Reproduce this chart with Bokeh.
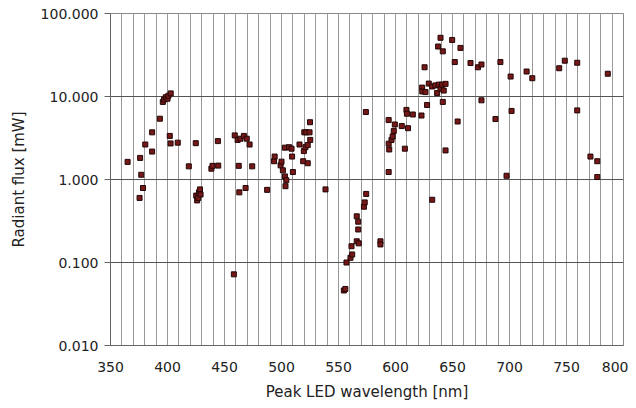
from bokeh.plotting import figure
from bokeh.models import FixedTicker, PrintfTickFormatter, ColumnDataSource
from bokeh.embed import file_html
from bokeh.resources import INLINE

wavelength = [365, 375.5, 376, 377, 378.5, 380.5, 386.5, 386.5, 393.3, 395.9, 397, 398.5, 400, 400.8, 402.8,
              402, 402.7, 409, 418.7, 424.8, 425.2, 426, 427, 427.6, 428.5, 429, 438.5, 439.5, 444.5, 444.2,
              458.2, 459, 461.5, 462.5, 463, 464, 467, 468.5, 469.5, 472, 474.3, 487.4, 493.5, 494, 499.2,
              500, 501.2, 503, 504.2, 503.5, 503, 506.6, 508.8, 509.3, 510, 515.8, 519, 519.6, 520, 521,
              521.8, 523, 523, 524.6, 525, 525.2, 538.6, 554.7, 556, 557, 560.5, 562, 561.4, 566, 567.8,
              566, 567.3, 567.3, 572.3, 573, 574.3, 574, 586.8, 586.8, 594, 594, 594, 594.5, 596.5, 597.5,
              598.5, 599.4, 605.5, 608.2, 609.6, 610, 611, 615.2, 622.8, 623.4, 623.5, 625.5, 626.3, 627.7,
              629.2, 632.2, 632.2, 635, 636.5, 637.4, 637.9, 639.5, 639.5, 640.9, 641.5, 641.5, 642.3, 643.9,
              643.9, 649.7, 652, 654.5, 657, 665.8, 672.3, 675.4, 675.4, 687.7, 692, 697.4, 701, 701.8, 715,
              720, 743.6, 748.5, 759.4, 759.4, 771, 777, 777, 786.2]
flux = [1.63, 0.60, 1.82, 1.14, 0.79, 2.64, 3.7, 2.17, 5.4, 8.6, 9.2, 9.8, 9.4, 10.2, 10.9,
        3.35, 2.72, 2.78, 1.44, 2.74, 0.64, 0.56, 0.60, 0.70, 0.76, 0.66, 1.35, 1.46, 1.47, 2.9,
        0.072, 3.4, 3.0, 1.46, 0.70, 3.1, 3.35, 0.79, 3.1, 2.64, 1.44, 0.75, 1.66, 1.89, 1.48,
        1.64, 1.29, 1.09, 0.98, 0.83, 2.42, 2.45, 2.35, 1.89, 1.23, 2.64, 1.66, 2.2, 3.7, 2.45,
        3.7, 1.57, 2.6, 3.7, 4.9, 3.0, 0.76, 0.046, 0.048, 0.10, 0.114, 0.125, 0.157, 0.18, 0.17,
        0.36, 0.31, 0.25, 0.47, 0.53, 0.67, 6.5, 0.18, 0.165, 5.2, 1.23, 2.7, 2.3, 3.0, 3.3,
        3.85, 4.6, 4.4, 2.35, 6.9, 6.2, 4.15, 6.07, 5.9, 12.8, 11.5, 22.5, 11.3, 7.9,
        14.3, 13.2, 0.57, 13.6, 11.0, 40, 13.9, 51, 12.4, 13.9, 35, 8.6, 11.8, 14.2,
        2.24, 48, 26, 5.0, 38.5, 25.3, 22.5, 24.3, 9.0, 5.35, 26, 1.11, 17.4, 6.7, 20,
        16.6, 21.9, 27, 25.5, 6.8, 1.89, 1.66, 1.07, 18.8]

x_ticks = [350, 400, 450, 500, 550, 600, 650, 700, 750, 800]
x_grid = list(range(350, 801, 10))
y_ticks = [0.01, 0.1, 1, 10, 100]

source = ColumnDataSource(data=dict(wl=wavelength, flux=flux))

p = figure(width=628, height=403, y_axis_type="log",
           x_range=(350, 800), y_range=(0.01, 100),
           output_backend="svg", toolbar_location=None,
           min_border_left=110, min_border_right=5, min_border_top=13, min_border_bottom=58)

p.scatter("wl", "flux", source=source, marker="square", size=5,
          fill_color="#761818", line_color="#220606", line_width=1)

p.xaxis.ticker = FixedTicker(ticks=x_ticks)
p.yaxis.ticker = FixedTicker(ticks=y_ticks)
p.yaxis.formatter = PrintfTickFormatter(format="%.3f")
p.xgrid.ticker = FixedTicker(ticks=x_grid)
p.ygrid.ticker = FixedTicker(ticks=y_ticks)
p.xgrid.grid_line_color = "#999999"
p.ygrid.grid_line_color = "#555555"
p.xgrid.grid_line_width = 1
p.ygrid.grid_line_width = 1

p.outline_line_color = "#888888"
p.outline_line_width = 1

for ax in (p.xaxis, p.yaxis):
    ax.axis_line_color = "#666666"
    ax.major_tick_line_color = "#666666"
    ax.minor_tick_line_color = None
    ax.major_label_text_font = "DejaVu Sans"
    ax.major_label_text_font_size = "14px"
    ax.major_label_text_color = "#222222"
    ax.axis_label_text_font = "DejaVu Sans"
    ax.axis_label_text_font_size = "15px"
    ax.axis_label_text_font_style = "normal"
    ax.axis_label_text_color = "#222222"

p.xaxis.major_tick_in = 0
p.xaxis.major_tick_out = 0
p.xaxis.major_label_standoff = 16
p.yaxis.major_tick_in = 0
p.yaxis.major_tick_out = 6
p.yaxis.major_label_standoff = 6
p.xaxis.axis_label = "Peak LED wavelength [nm]"
p.yaxis.axis_label = "Radiant flux [mW]"
p.xaxis.axis_label_standoff = 8
p.yaxis.axis_label_standoff = 10

open("out.html", "w").write(file_html(p, INLINE))
